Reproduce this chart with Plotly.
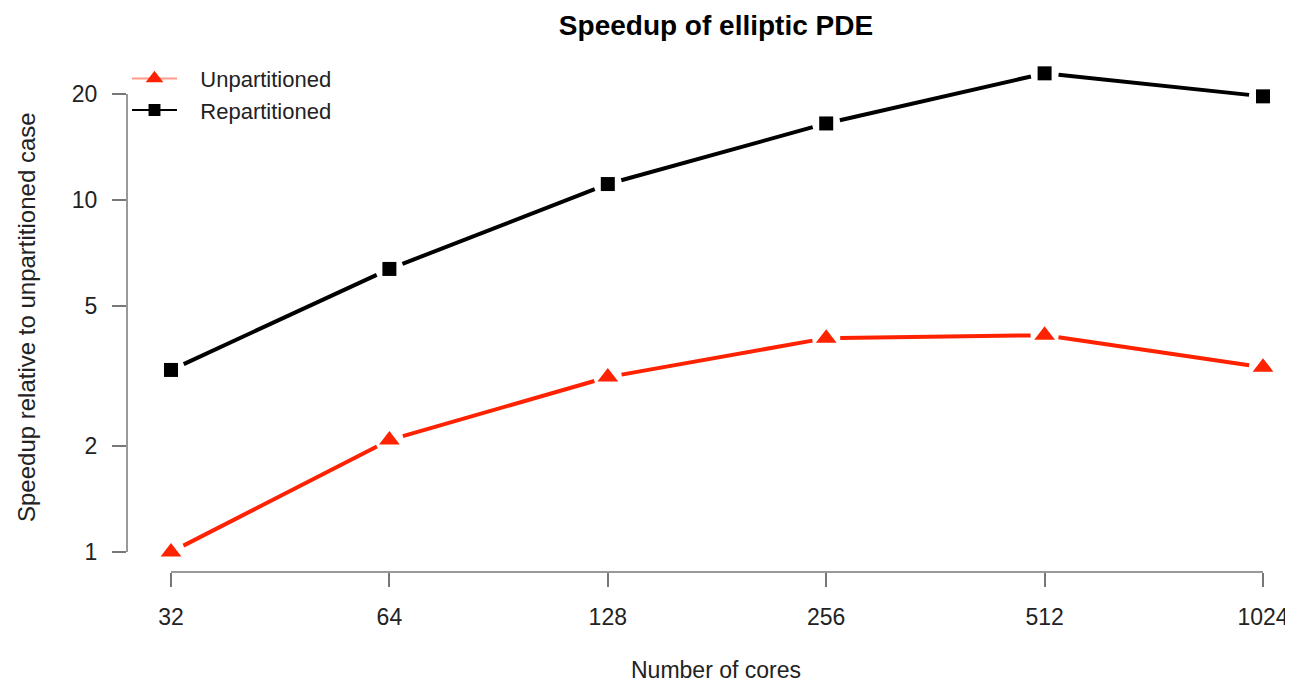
import math
import numpy as np
import plotly.graph_objects as go

cores = [32, 64, 128, 256, 512, 1024]
core_labels = ["32", "64", "128", "256", "512", "1024"]
unpartitioned = [1.0, 2.08, 3.14, 4.05, 4.13, 3.35]
repartitioned = [3.29, 6.37, 11.1, 16.5, 22.9, 19.7]
y_ticks = [1, 2, 5, 10, 20]

RED = "#ff2200"
BLACK = "#000000"
AXIS = "#777777"
TXT = "#222222"
FONT = "Liberation Sans, Arial, sans-serif"
NB = "\u00a0\u00a0\u00a0"

# page body has an 8px margin, so the figure is slightly smaller than the window
W, H = 1285, 676
l, r, t, b = 119, 20, 47, 112
PW, PH = W - l - r, H - t - b
px_per_doubling = 218.4
px_per_decade = 352.0
PX_X = px_per_doubling / math.log10(2)   # pixels per log10 unit on x
PX_Y = px_per_decade                     # pixels per log10 unit on y
xr0 = math.log10(32) - 44 / PX_X
xr1 = math.log10(1024) + 10 / PX_X
yr0 = 0 - 20 / PX_Y
yr1 = (544 - t) / PX_Y


def gapped(xs, ys, gap=14.0):
    """R type='b': segments between points, shortened by a fixed pixel gap."""
    lx = np.log10(np.asarray(xs, float)) * PX_X
    ly = np.log10(np.asarray(ys, float)) * PX_Y
    ox, oy = [], []
    for i in range(len(xs) - 1):
        dx, dy = lx[i + 1] - lx[i], ly[i + 1] - ly[i]
        f = gap / math.hypot(dx, dy)
        ax, ay = lx[i] + f * dx, ly[i] + f * dy
        bx, by = lx[i + 1] - f * dx, ly[i + 1] - f * dy
        ox += [10 ** (ax / PX_X), 10 ** (bx / PX_X), None]
        oy += [10 ** (ay / PX_Y), 10 ** (by / PX_Y), None]
    return ox, oy


series = [
    ("Unpartitioned", unpartitioned, RED, "triangle-up", 18, "rgba(255,34,0,0.45)"),
    ("Repartitioned", repartitioned, BLACK, "square", 14, BLACK),
]

fig = go.Figure()
for name, ys, color, symbol, msize, lc in series:
    gx, gy = gapped(cores, ys)
    fig.add_trace(go.Scatter(x=gx, y=gy, mode="lines", line=dict(color=color, width=4),
                             showlegend=False, hoverinfo="skip", connectgaps=False))
    fig.add_trace(go.Scatter(x=cores, y=ys, mode="markers", name=name,
                             marker=dict(color=color, size=msize, symbol=symbol, line=dict(width=0)),
                             showlegend=False, cliponaxis=False))
for name, ys, color, symbol, msize, lc in series:
    fig.add_trace(go.Scatter(x=[None], y=[None], mode="lines+markers", name=NB + name,
                             line=dict(color=lc, width=2),
                             marker=dict(color=color, size=msize * 0.85, symbol=symbol, line=dict(width=0))))

# axis lines spanning only the tick range (R style)
fig.add_shape(type="line", xref="paper", yref="y", x0=0, x1=0, y0=min(y_ticks), y1=max(y_ticks),
              line=dict(color=AXIS, width=1.5))
fig.add_shape(type="line", xref="x", yref="paper", x0=min(cores), x1=max(cores), y0=0, y1=0,
              line=dict(color=AXIS, width=1.5))

fig.update_layout(
    width=W, height=H,
    margin=dict(l=l, r=r, t=t, b=b, autoexpand=False),
    paper_bgcolor="white", plot_bgcolor="white",
    font=dict(family=FONT, size=23, color=TXT),
    title=dict(text="<b>Speedup of elliptic PDE</b>", x=708 / W, xanchor="center",
               y=1 - 17 / H, yanchor="middle", font=dict(size=28, color="#000000")),
    legend=dict(x=0, y=0.995, xanchor="left", yanchor="top", bgcolor="rgba(0,0,0,0)",
                font=dict(size=22, color=TXT), itemwidth=45, tracegroupgap=0),
    showlegend=True,
    annotations=[
        dict(text="Number of cores", xref="paper", yref="paper",
             x=(708 - l) / PW, y=-(662 - (H - b)) / PH, xanchor="center", yanchor="middle",
             showarrow=False, font=dict(size=23, color=TXT)),
        dict(text="Speedup relative to unpartitioned case", xref="paper", yref="paper",
             x=(18 - l) / PW, y=1 - (309 - t) / PH, xanchor="center", yanchor="middle",
             textangle=-90, showarrow=False, font=dict(size=24, color=TXT)),
    ],
)
fig.update_xaxes(type="log", range=[xr0, xr1], tickvals=cores, ticktext=core_labels,
                 showgrid=False, zeroline=False, showline=False, automargin=False,
                 ticks="outside", ticklen=14, tickcolor=AXIS, tickwidth=1.5,
                 ticklabelstandoff=10)
fig.update_yaxes(type="log", range=[yr0, yr1], tickvals=y_ticks, ticktext=[str(v) for v in y_ticks],
                 showgrid=False, zeroline=False, showline=False, automargin=False,
                 ticks="outside", ticklen=14, tickcolor=AXIS, tickwidth=1.5,
                 ticklabelstandoff=10)

fig.write_html("out.html")
